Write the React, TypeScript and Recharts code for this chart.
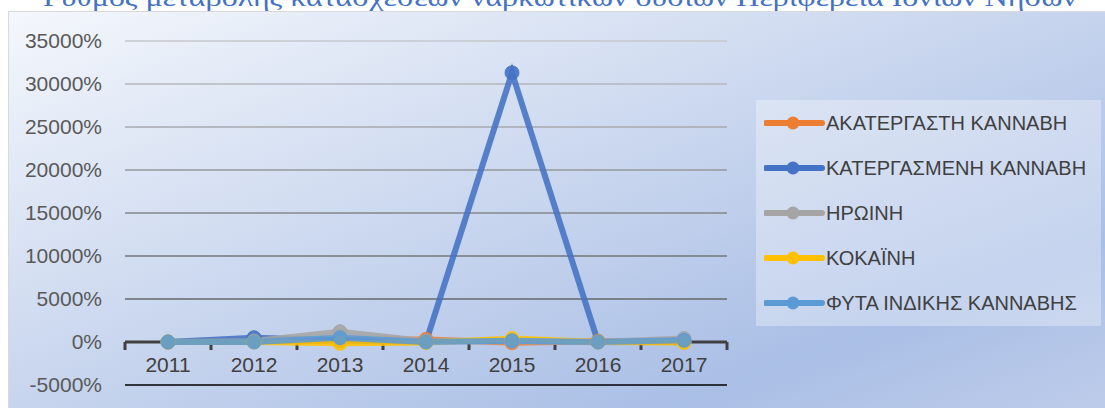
import { LineChart, Line, XAxis, YAxis, ReferenceLine } from "recharts";

// Years on the category axis
const years = ["2011", "2012", "2013", "2014", "2015", "2016", "2017"];

// Rate of change per drug type (%)
const akatergasti = [0, 50, 300, 300, -80, 100, 0];
const katergasmeni = [0, 500, 200, 0, 31300, 0, 100];
const iroini = [0, 100, 1200, 100, 100, 0, 400];
const kokaini = [0, 0, -150, -50, 400, 0, -50];
const fyta = [0, 0, 500, 0, 150, 0, 200];

const yTicks = [-5000, 0, 5000, 10000, 15000, 20000, 25000, 30000, 35000];

const SERIES = [
  { key: "a", name: "ΑΚΑΤΕΡΓΑΣΤΗ ΚΑΝΝΑΒΗ", values: akatergasti, color: "#ED7D31" },
  { key: "b", name: "ΚΑΤΕΡΓΑΣΜΕΝΗ ΚΑΝΝΑΒΗ", values: katergasmeni, color: "#4472C4" },
  { key: "c", name: "ΗΡΩΙΝΗ", values: iroini, color: "#A5A5A5" },
  { key: "d", name: "ΚΟΚΑΪΝΗ", values: kokaini, color: "#FFC000" },
  { key: "e", name: "ΦΥΤΑ ΙΝΔΙΚΗΣ ΚΑΝΝΑΒΗΣ", values: fyta, color: "#5B9BD5" },
];

// gridlines get darker towards the bottom, like the original
const GRID_COLORS: Record<number, string> = {
  35000: "#c4c7cc",
  30000: "#b4b7bc",
  25000: "#a6a9ae",
  20000: "#96989c",
  15000: "#85878b",
  10000: "#75777b",
  5000: "#66686b",
};

const FONT = "'Liberation Sans', Arial, sans-serif";

const data = years.map((year, i) => {
  const row: Record<string, string | number> = { year };
  SERIES.forEach((s) => (row[s.key] = s.values[i]));
  return row;
});

// zero line acting as the category axis, with tick marks between the years
function ZeroAxis(props: any) {
  const { x1, x2, y1 } = props;
  const left = Math.min(x1, x2);
  const right = Math.max(x1, x2);
  const step = (right - left) / years.length;
  const marks = [];
  for (let i = 0; i <= years.length; i++) {
    const x = left + step * i;
    marks.push(<line key={i} x1={x} x2={x} y1={y1} y2={y1 + 8} stroke="#404040" strokeWidth={3} />);
  }
  return (
    <g>
      <line x1={left} x2={right} y1={y1} y2={y1} stroke="#404040" strokeWidth={3} />
      {marks}
    </g>
  );
}

function YearTick(props: any) {
  const { x, y, payload } = props;
  return (
    <text x={x} y={y - 13} textAnchor="middle" fill="#404040" fontSize={21} fontFamily={FONT}>
      {payload.value}
    </text>
  );
}

export default function App() {
  return (
    <div style={{ position: "relative", width: 1105, height: 408, overflow: "hidden", background: "#fff" }}>
      <style>{"body{margin:0}"}</style>
      <svg width={1105} height={20} style={{ position: "absolute", left: 0, top: 0 }}>
        <text
          x={43}
          y={6}
          fill="#4472C4"
          fontSize={26}
          fontFamily="'Liberation Serif', 'DejaVu Serif', serif"
          textLength={1034}
          lengthAdjust="spacingAndGlyphs"
        >
          Ρυθμός μεταβολής κατασχέσεων ναρκωτικών ουσιών Περιφέρεια Ιονίων Νήσων
        </text>
      </svg>
      <div
        style={{
          position: "absolute",
          left: 8,
          top: 11,
          width: 1105,
          height: 410,
          border: "1px solid #d9d9d9",
          background: "linear-gradient(to bottom right, #f4f7fc 0%, #c5d3ed 50%, #aabfe6 78%, #bfcdea 100%)",
        }}
      />
      <div style={{ position: "absolute", left: 0, top: 0 }}>
        <LineChart width={1105} height={408} data={data} margin={{ top: 41, right: 378, bottom: 0, left: 0 }}>
          {yTicks
            .filter((v) => GRID_COLORS[v])
            .map((v) => (
              <ReferenceLine key={v} y={v} stroke={GRID_COLORS[v]} strokeWidth={1.5} />
            ))}
          <XAxis
            dataKey="year"
            height={23}
            padding={{ left: 43, right: 43 }}
            axisLine={{ stroke: "#000", strokeWidth: 1.5 }}
            tickLine={false}
            tickSize={0}
            tickMargin={0}
            tick={<YearTick />}
            interval={0}
          />
          <YAxis
            width={125}
            domain={[-5000, 35000]}
            ticks={yTicks}
            axisLine={false}
            tickLine={false}
            tickSize={0}
            tickMargin={23}
            tickFormatter={(v: number) => `${v}%`}
            tick={{ fill: "#595959", fontSize: 21, fontFamily: FONT }}
          />
          <ReferenceLine y={0} shape={<ZeroAxis />} />
          {SERIES.map((s) => (
            <Line
              key={s.key}
              dataKey={s.key}
              name={s.name}
              stroke={s.color}
              strokeWidth={6}
              strokeOpacity={0.88}
              dot={{ r: 7, fill: s.color, stroke: s.color, strokeWidth: 1, fillOpacity: 0.9 }}
              isAnimationActive={false}
            />
          ))}
        </LineChart>
      </div>
      <div
        style={{
          position: "absolute",
          left: 756,
          top: 100,
          width: 345,
          height: 226,
          background: "rgba(255,255,255,0.32)",
        }}
      >
        {SERIES.map((s, i) => (
          <div
            key={s.key}
            style={{
              position: "absolute",
              left: 8,
              top: 10 + i * 45,
              height: 26,
              display: "flex",
              alignItems: "center",
            }}
          >
            <svg width={62} height={26}>
              <line x1={2} x2={58} y1={13} y2={13} stroke={s.color} strokeWidth={6} strokeLinecap="round" />
              <circle cx={29} cy={13} r={6.5} fill={s.color} />
            </svg>
            <span style={{ fontFamily: FONT, fontSize: 20, color: "#404040", whiteSpace: "nowrap" }}>{s.name}</span>
          </div>
        ))}
      </div>
    </div>
  );
}
